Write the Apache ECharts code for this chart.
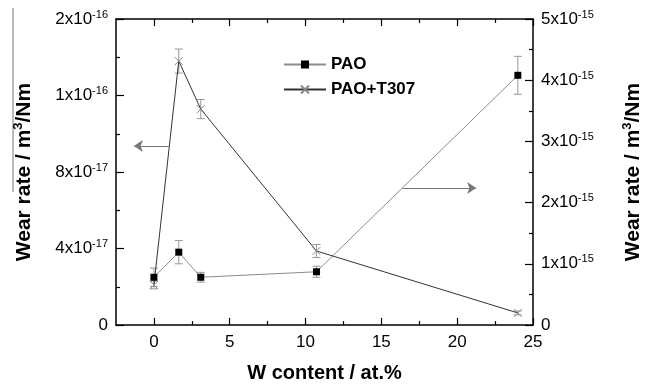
<!DOCTYPE html>
<html>
<head>
<meta charset="utf-8">
<script src="https://cdn.jsdelivr.net/npm/echarts@6/dist/echarts.min.js"></script>
<style>
  html, body { margin: 0; padding: 0; background: #fff; }
  #chart { width: 645px; height: 384px; }
</style>
</head>
<body>
<div id="chart"></div>
<script>
// ---- data ----
var wContent = [0, 1.64, 3.09, 10.72, 24.0];
// PAO -> right axis
var paoRate = [0.78e-15, 1.19e-15, 0.78e-15, 0.87e-15, 4.08e-15];
var paoErr = [0.15e-15, 0.19e-15, 0.08e-15, 0.09e-15, 0.31e-15];
// PAO+T307 -> left axis
var t307Rate = [2.09e-17, 1.38e-16, 1.129e-16, 3.87e-17, 0.63e-17];
var t307Err = [0.2e-17, 0.63e-17, 0.5e-17, 0.34e-17, 0.1e-17];

var leftTickLabels = ['0', '4x10|-17', '8x10|-17', '1x10|-16', '2x10|-16'];
var rightTickLabels = ['0', '1x10|-15', '2x10|-15', '3x10|-15', '4x10|-15', '5x10|-15'];
var xMajorTicks = [0, 5, 10, 15, 20, 25];
var xMinorTicks = [2.5, 7.5, 12.5, 17.5, 22.5];

// arrows showing which axis each curve belongs to
var leftArrow = [[1.05, 9.36e-17], [-1.32, 9.36e-17]];
var rightArrow = [[16.4, 2.24e-15], [21.25, 2.24e-15]];

var FONT = '"Liberation Sans", Arial, sans-serif';
var Y_MAX = 1.6e-16;
// x tick lengths in left-axis units (about 7px and 4px)
var MAJOR_LEN = 3.7e-18, MINOR_LEN = 2.1e-18;

function supLabel(lbl) {
  var p = lbl.split('|');
  return p.length > 1 ? '{m|' + p[0] + '}{s|' + p[1] + '}' : '{m|' + p[0] + '}';
}
var tickRich = {
  m: { fontSize: 17, fontFamily: FONT, color: '#000' },
  s: { fontSize: 11, fontFamily: FONT, color: '#000', padding: [0, 0, 9, 0] }
};
var nameRich = {
  b: { fontSize: 21, fontWeight: 'bold', fontFamily: FONT, color: '#000' },
  s: { fontSize: 13, fontWeight: 'bold', fontFamily: FONT, color: '#000', padding: [0, 0, 11, 0] }
};

function errRender(color) {
  return function (params, api) {
    var x = api.value(0), y = api.value(1), e = api.value(2);
    var top = api.coord([x, y + e]), bot = api.coord([x, y - e]);
    var w = 4;
    var st = { stroke: color, lineWidth: 1 };
    return { type: 'group', children: [
      { type: 'line', shape: { x1: top[0], y1: top[1], x2: bot[0], y2: bot[1] }, style: st },
      { type: 'line', shape: { x1: top[0] - w, y1: top[1], x2: top[0] + w, y2: top[1] }, style: st },
      { type: 'line', shape: { x1: bot[0] - w, y1: bot[1], x2: bot[0] + w, y2: bot[1] }, style: st }
    ] };
  };
}

function yAxis(pos, max, step, labels, gap) {
  return {
    type: 'value', position: pos, min: 0, max: max, interval: step,
    name: '{b|Wear rate / m}{s|3}{b|/Nm}', nameLocation: 'middle', nameGap: gap, nameRotate: 90,
    nameTextStyle: { rich: nameRich },
    axisLine: { show: true, onZero: false, lineStyle: { color: '#000', width: 1.5 } },
    axisTick: { show: true, inside: true, length: 8, lineStyle: { color: '#000', width: 1.2 } },
    minorTick: { show: true, splitNumber: 2, length: 4, lineStyle: { color: '#000', width: 1.2 } },
    axisLabel: { margin: 8, rich: tickRich, formatter: function (v) {
      return supLabel(labels[Math.round(v / step)] || ''); } },
    splitLine: { show: false }
  };
}

function arrowLine(pts) {
  return {
    silent: true, symbol: ['none', 'arrow'], symbolSize: 9,
    label: { show: false }, lineStyle: { color: '#777', width: 1, type: 'solid' },
    data: [[{ coord: pts[0] }, { coord: pts[1] }]]
  };
}

// inside x ticks on the bottom and top of the frame
var xTickSegs = [];
function addXTicks(vals, len) {
  vals.forEach(function (v) {
    xTickSegs.push([{ coord: [v, 0] }, { coord: [v, len] }]);
    xTickSegs.push([{ coord: [v, Y_MAX] }, { coord: [v, Y_MAX - len] }]);
  });
}
addXTicks(xMajorTicks, MAJOR_LEN);
addXTicks(xMinorTicks, MINOR_LEN);

var chart = echarts.init(document.getElementById('chart'));
chart.setOption({
  animation: false,
  grid: { left: 116, right: 112, top: 19, bottom: 59, outerBoundsMode: 'none', containLabel: false },
  legend: {
    orient: 'vertical', left: 278, top: 51, itemWidth: 42, itemHeight: 10, itemGap: 8,
    textStyle: { fontSize: 17, fontWeight: 'bold', fontFamily: FONT, color: '#000' },
    data: ['PAO', 'PAO+T307']
  },
  xAxis: [
    {
      type: 'value', position: 'bottom', min: -2.5, max: 25,
      name: 'W content / at.%', nameLocation: 'middle', nameGap: 38,
      nameTextStyle: { fontSize: 20, fontWeight: 'bold', fontFamily: FONT, color: '#000' },
      axisLine: { show: true, onZero: false, lineStyle: { color: '#000', width: 1.5 } },
      axisTick: { show: false },
      axisLabel: { show: true, customValues: xMajorTicks, margin: 9,
                   fontSize: 17, fontFamily: FONT, color: '#000' },
      splitLine: { show: false }
    },
    {
      type: 'value', position: 'top', min: -2.5, max: 25,
      axisLine: { show: true, onZero: false, lineStyle: { color: '#000', width: 1.5 } },
      axisTick: { show: false }, axisLabel: { show: false }, splitLine: { show: false }
    }
  ],
  yAxis: [
    yAxis('left', Y_MAX, 4e-17, leftTickLabels, 80),
    yAxis('right', 5e-15, 1e-15, rightTickLabels, 88)
  ],
  graphic: [
    { type: 'line', shape: { x1: 13, y1: 8, x2: 13, y2: 192 }, style: { stroke: '#777', lineWidth: 1 } }
  ],
  series: [
    {
      name: 'x ticks', type: 'line', xAxisIndex: 0, yAxisIndex: 0, data: [], z: 6,
      markLine: {
        silent: true, symbol: 'none', animation: false,
        label: { show: false }, emphasis: { disabled: true },
        lineStyle: { color: '#000', width: 1.2, type: 'solid' },
        data: xTickSegs
      }
    },
    {
      name: 'PAO err', type: 'custom', xAxisIndex: 0, yAxisIndex: 1, silent: true,
      renderItem: errRender('#999'),
      data: wContent.map(function (x, i) { return [x, paoRate[i], paoErr[i]]; })
    },
    {
      name: 'T307 err', type: 'custom', xAxisIndex: 0, yAxisIndex: 0, silent: true,
      renderItem: errRender('#999'),
      data: wContent.map(function (x, i) { return [x, t307Rate[i], t307Err[i]]; })
    },
    {
      name: 'PAO', type: 'line', xAxisIndex: 0, yAxisIndex: 1, z: 3,
      symbol: 'rect', symbolSize: 7,
      itemStyle: { color: '#000' },
      lineStyle: { color: '#8c8c8c', width: 1 },
      data: wContent.map(function (x, i) { return [x, paoRate[i]]; }),
      markLine: arrowLine(rightArrow)
    },
    {
      name: 'PAO+T307', type: 'line', xAxisIndex: 0, yAxisIndex: 0, z: 3,
      symbol: 'path://M0,0L10,10M10,0L0,10', symbolSize: 8,
      itemStyle: { color: 'none', borderColor: '#888', borderWidth: 1 },
      lineStyle: { color: '#333', width: 1 },
      data: wContent.map(function (x, i) { return [x, t307Rate[i]]; }),
      markLine: arrowLine(leftArrow)
    }
  ]
});
</script>
</body>
</html>
